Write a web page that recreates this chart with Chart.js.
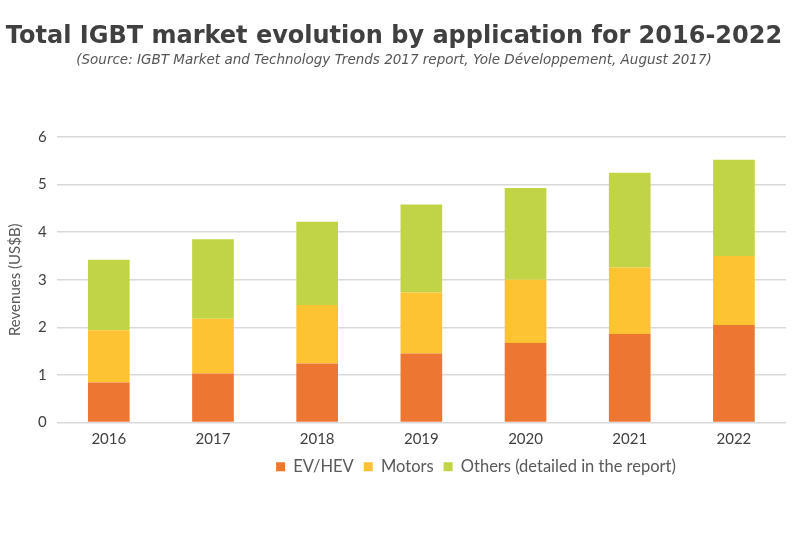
<!DOCTYPE html>
<html><head><meta charset="utf-8">
<script src="https://cdn.jsdelivr.net/npm/chart.js@4/dist/chart.umd.min.js"></script>
<style>html,body{margin:0;padding:0;background:#fff}#wrap{width:800px;height:560px}</style>
</head><body><div id="wrap"><canvas id="c" width="800" height="560"></canvas></div>
<script>
const categories = ['2016','2017','2018','2019','2020','2021','2022'];
const evHev = [0.84, 1.03, 1.24, 1.45, 1.67, 1.86, 2.05];
const motors = [1.10, 1.15, 1.23, 1.28, 1.33, 1.40, 1.45];
const others = [1.48, 1.67, 1.75, 1.85, 1.93, 1.99, 2.02];
const yTicks = [0,1,2,3,4,5,6];

const tickFont = {family: 'Lato, "Open Sans", sans-serif', size: 15};
const shiftLegend = {
  id: 'shiftLegend',
  afterLayout(chart) { const l = chart.legend; if (l) { l.left += 82; l.right += 82; } }
};
new Chart(document.getElementById('c'), {
  type: 'bar',
  data: {
    labels: categories,
    datasets: [
      {label: 'EV/HEV', data: evHev, backgroundColor: '#ED7633', barPercentage: 0.8, categoryPercentage: 0.5},
      {label: 'Motors', data: motors, backgroundColor: '#FDC333', barPercentage: 0.8, categoryPercentage: 0.5},
      {label: 'Others (detailed in the report)', data: others, backgroundColor: '#C1D445', barPercentage: 0.8, categoryPercentage: 0.5}
    ]
  },
  plugins: [shiftLegend],
  options: {
    responsive: false,
    animation: false,
    layout: {padding: {left: 2, right: 14, top: 0, bottom: 75}},
    plugins: {
      title: {display: true, text: 'Total IGBT market evolution by application for 2016-2022', color: '#404040',
        font: {family: '"DejaVu Sans", Verdana, sans-serif', size: 24, weight: 'bold'}, padding: {top: 22, bottom: 2}},
      subtitle: {display: true, text: '(Source: IGBT Market and Technology Trends 2017 report, Yole Développement, August 2017)', color: '#555555',
        font: {family: '"DejaVu Sans", Verdana, sans-serif', size: 13.5, style: 'italic'}, padding: {top: 0, bottom: 68}},
      legend: {position: 'bottom', labels: {boxWidth: 9, boxHeight: 9, color: '#595959', padding: 10,
        font: {family: 'Lato, "Open Sans", sans-serif', size: 16.5}}},
      tooltip: {enabled: false}
    },
    scales: {
      x: {stacked: true, grid: {display: false}, border: {display: false},
        ticks: {color: '#404040', font: tickFont, padding: 0}},
      y: {stacked: true, min: 0, max: 6,
        afterBuildTicks: ax => { ax.ticks = yTicks.map(v => ({value: v})); },
        grid: {color: '#d9d9d9', lineWidth: 1.5, drawTicks: false}, border: {display: false},
        ticks: {color: '#404040', font: tickFont, padding: 10},
        title: {display: true, text: 'Revenues (US$B)', color: '#595959', font: {family: 'Lato, "Open Sans", sans-serif', size: 15}, padding: {bottom: 4}}}
    }
  }
});
</script></body></html>
